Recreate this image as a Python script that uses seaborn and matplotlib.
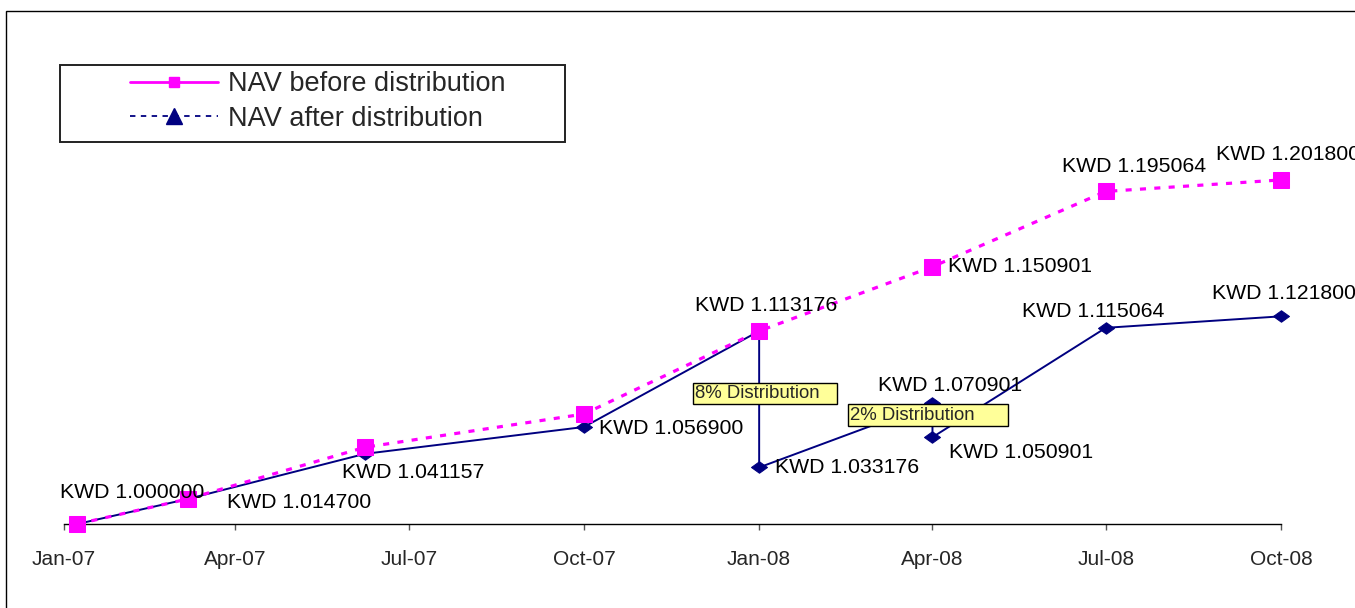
import matplotlib
matplotlib.use("Agg")
import matplotlib.pyplot as plt
import matplotlib.dates as mdates
from matplotlib.lines import Line2D
from matplotlib.patches import Rectangle
from matplotlib.path import Path
import seaborn as sns
import pandas as pd

# ---------------- data ----------------
dates_before = ["2007-01-08", "2007-03-07", "2007-06-08", "2007-10-01",
                "2008-01-01", "2008-04-01", "2008-07-01", "2008-10-01"]
nav_before = [1.000000, 1.014700, 1.045000, 1.064500,
              1.113176, 1.150901, 1.195064, 1.201800]

dates_after = ["2007-01-08", "2007-03-07", "2007-06-08", "2007-10-01",
               "2008-01-01", "2008-01-01", "2008-04-01", "2008-04-01",
               "2008-07-01", "2008-10-01"]
nav_after = [1.000000, 1.014700, 1.041157, 1.056900,
             1.113176, 1.033176, 1.070901, 1.050901,
             1.115064, 1.121800]

tick_dates = ["2007-01-01", "2007-04-01", "2007-07-01", "2007-10-01",
              "2008-01-01", "2008-04-01", "2008-07-01", "2008-10-01"]

series_names = ["NAV before distribution", "NAV after distribution"]
distribution_labels = ["8% Distribution", "2% Distribution"]
distribution_dates = ["2008-01-01", "2008-04-01"]

# label placement (pixel offsets from each point), None = no label
before_offsets = [None, None, None, None, (-64, 26), (16, 0), (-44, 25), (-65, 25)]
after_offsets = [(-17, 31), (39, -4), (-23, -19), (15, -2), None, (16, 0),
                 (-54, 18), (17, -15), (-84, 16), (-69, 23)]
dist_offsets = [((-64, 6), "   "), ((-82, 5), "      ")]

# ---------------- style ----------------
sns.set_style("white")
plt.rcParams["font.family"] = ["Liberation Sans", "DejaVu Sans"]

PINK = "#FF00FF"
NAVY = "#000080"

W, H = 1355, 608
fig = plt.figure(figsize=(W / 100, H / 100), dpi=100)
ax = fig.add_axes([64 / W, 1 - 524 / H, (1281 - 64) / W, (524 - 40) / H])

df_b = pd.DataFrame({"date": pd.to_datetime(dates_before), "nav": nav_before})
df_a = pd.DataFrame({"date": pd.to_datetime(dates_after), "nav": nav_after})

diamond = Path([(-1, 0), (0, 0.72), (1, 0), (0, -0.72), (-1, 0)],
               [Path.MOVETO, Path.LINETO, Path.LINETO, Path.LINETO, Path.CLOSEPOLY])

sns.lineplot(data=df_a, x="date", y="nav", ax=ax, estimator=None, sort=False,
             color=NAVY, lw=1.4, marker=diamond, ms=11.5, mec=NAVY, mfc=NAVY,
             clip_on=False, zorder=3)
sns.lineplot(data=df_b, x="date", y="nav", ax=ax, estimator=None, sort=False,
             color=PINK, lw=2.3, linestyle=(0, (1.9, 2.6)), marker="s", ms=12,
             mec=PINK, mfc=PINK, clip_on=False, zorder=4)

ax.set_xlim(pd.Timestamp(tick_dates[0]), pd.Timestamp(tick_dates[-1]))
ax.set_ylim(1.0, 1.0 + 484 / 1705)

# ---------------- value labels ----------------
def add_labels(df, offsets):
    for (d, v), off in zip(zip(df["date"], df["nav"]), offsets):
        if off is None:
            continue
        ax.annotate(f"KWD {v:.6f}", xy=(d, v), xytext=off, textcoords="offset pixels",
                    ha="left", va="center", fontsize=15.3, color="black",
                    annotation_clip=False, zorder=6)

add_labels(df_b, before_offsets)
add_labels(df_a, after_offsets)

# distribution callouts (anchored at the middle of each drop)
for lab, dd, (off, pad) in zip(distribution_labels, distribution_dates, dist_offsets):
    sub = df_a[df_a["date"] == pd.Timestamp(dd)]["nav"]
    mid = (sub.max() + sub.min()) / 2
    ax.annotate(lab + pad, xy=(pd.Timestamp(dd), mid), xytext=off,
                textcoords="offset pixels", ha="left", va="center", fontsize=13.4,
                bbox=dict(boxstyle="square,pad=0.12", fc="#FFFF99", ec="black", lw=1.0),
                zorder=7)

# ---------------- axes ----------------
for s in ["left", "right", "top"]:
    ax.spines[s].set_visible(False)
ax.spines["bottom"].set_color("black")
ax.spines["bottom"].set_linewidth(1.0)
ax.set_yticks([])
ax.set_xticks(pd.to_datetime(tick_dates))
ax.xaxis.set_major_formatter(mdates.DateFormatter("%b-%y"))
ax.tick_params(axis="x", direction="out", length=4, width=1, color="#555555",
               labelsize=15, pad=15, bottom=True)
ax.set_xlabel("")
ax.set_ylabel("")

# ---------------- legend ----------------
handles = [
    Line2D([], [], color=PINK, lw=2, marker="s", ms=7, mec=PINK, mfc=PINK),
    Line2D([], [], color=NAVY, lw=1.3, ls=(0, (3, 3)), marker="^", ms=11, mec=NAVY, mfc=NAVY),
]
fig.legend(handles, series_names, loc="upper left",
           bbox_to_anchor=(130 / W, 1 - 71 / H), frameon=False, fontsize=19.5,
           borderpad=0, borderaxespad=0, handlelength=3.25, handletextpad=0.37,
           labelspacing=0.33, numpoints=1)
fig.add_artist(Rectangle((60 / W, 1 - 142 / H), 505 / W, 77 / H, transform=fig.transFigure,
                         fill=False, ec="#222222", lw=1.4))

# outer border
fig.add_artist(Rectangle((6 / W, -0.1), 1.2, 1.1 - 11 / H, transform=fig.transFigure,
                         fill=False, ec="black", lw=1.0, clip_on=False))

fig.savefig("out.png", dpi=100)
